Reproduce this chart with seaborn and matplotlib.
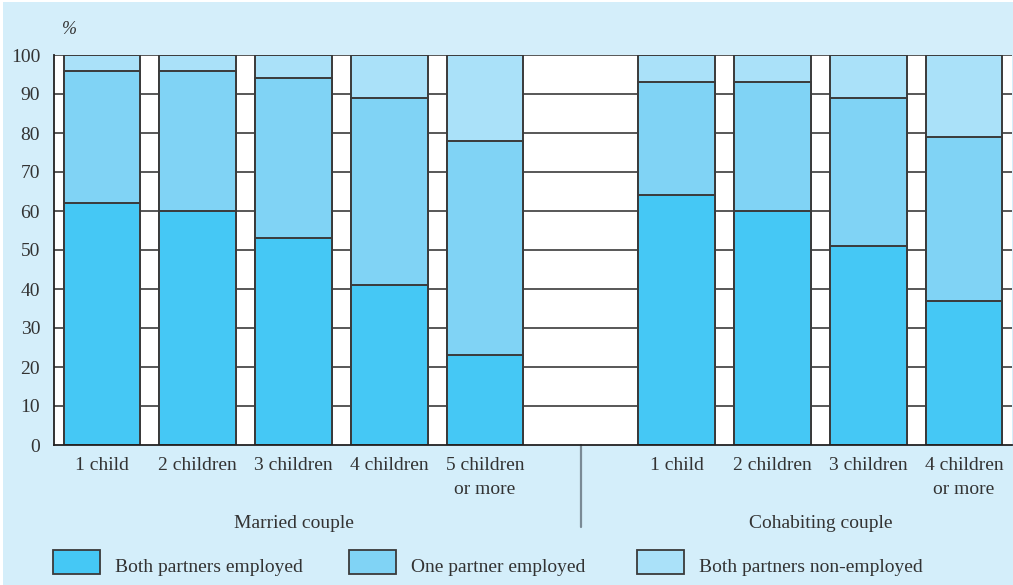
import matplotlib
matplotlib.use("Agg")
import matplotlib.pyplot as plt
import seaborn as sns
import pandas as pd
from matplotlib.patches import Rectangle

# Data (percent of couples by number of employed partners)
slots = ["M1", "M2", "M3", "M4", "M5", "gap", "C1", "C2", "C3", "C4"]
tick_labels = ["1 child", "2 children", "3 children", "4 children", "5 children\nor more",
               "", "1 child", "2 children", "3 children", "4 children\nor more"]
bar_slots = ["M1", "M2", "M3", "M4", "M5", "C1", "C2", "C3", "C4"]
both_employed = [62, 60, 53, 41, 23, 64, 60, 51, 37]
one_employed = [34, 36, 41, 48, 55, 29, 33, 38, 42]
none_employed = [4, 4, 6, 11, 22, 7, 7, 11, 21]
series = ["Both partners employed", "One partner employed", "Both partners non-employed"]
colors = ["#45c8f5", "#80d3f5", "#aae1f9"]

df = pd.DataFrame({"slot": bar_slots, "both": both_employed,
                   "one": one_employed, "none": none_employed})
df["cum1"] = df["both"]
df["cum2"] = df["both"] + df["one"]
df["cum3"] = df["cum2"] + df["none"]

bg = "#d4eefa"
txt = "#333333"
sns.set_theme(style="white")
plt.rcParams["font.family"] = ["Liberation Serif", "DejaVu Serif"]
plt.rcParams["font.size"] = 14

fig = plt.figure(figsize=(10.13, 5.85), dpi=100, facecolor=bg)
# thin white margin at top and left, as in the cropped source
fig.patches.append(Rectangle((0, 1 - 2 / 585), 1, 2 / 585, transform=fig.transFigure,
                             facecolor="white", edgecolor="none"))
fig.patches.append(Rectangle((0, 0), 3 / 1013, 1, transform=fig.transFigure,
                             facecolor="white", edgecolor="none"))

ax = fig.add_axes([54 / 1013, 140 / 585, 958 / 1013, 390 / 585])
ax.set_facecolor("white")

# horizontal grid lines behind the bars
for v in range(10, 101, 10):
    ax.axhline(v, color="#2a2a2a", lw=1.1, zorder=0)

# stacked bars: draw totals back to front
for col, c in zip(["cum3", "cum2", "cum1"], colors[::-1]):
    sns.barplot(data=df, x="slot", y=col, order=slots, color=c, width=0.8,
                edgecolor="#3a3a3a", linewidth=1.4, saturation=1, ax=ax, zorder=2)

ax.set_xlim(-0.5, 9.5)
ax.set_ylim(0, 100)
ax.set_yticks(range(0, 101, 10))
ax.set_xticks(range(len(slots)))
ax.set_xticklabels(tick_labels, color=txt, fontsize=14, linespacing=1.5)
ax.tick_params(axis="y", length=0, pad=10, labelcolor=txt, labelsize=14)
ax.tick_params(axis="x", length=0, pad=9)
ax.set_xlabel("")
ax.set_ylabel("")
for s in ["top", "right"]:
    ax.spines[s].set_visible(False)
for s in ["left", "bottom"]:
    ax.spines[s].set_color("#222222")
    ax.spines[s].set_linewidth(1.3)

fig.text(62 / 1013, 1 - 29 / 585, "%", style="italic", color=txt, fontsize=13,
         ha="left", va="center")

# group labels and separator
ax.text(2, -0.2, "Married couple", transform=ax.get_xaxis_transform(),
        ha="center", va="center", color=txt, fontsize=14)
ax.text(7.5, -0.2, "Cohabiting couple", transform=ax.get_xaxis_transform(),
        ha="center", va="center", color=txt, fontsize=14)
ax.plot([5, 5], [0, -0.21], transform=ax.get_xaxis_transform(), clip_on=False,
        color="#7a8a95", lw=1.6)

# legend row
leg_x = [53, 349, 637]
for x, lab, c in zip(leg_x, series, colors):
    fig.patches.append(Rectangle((x / 1013, 1 - 574 / 585), 47 / 1013, 24 / 585,
                                 transform=fig.transFigure, facecolor=c,
                                 edgecolor="#3a3a3a", lw=1.3))
    fig.text((x + 62) / 1013, 1 - 568 / 585, lab, color=txt, fontsize=14,
             ha="left", va="center")

fig.savefig("out.png", dpi=100, facecolor=bg)
